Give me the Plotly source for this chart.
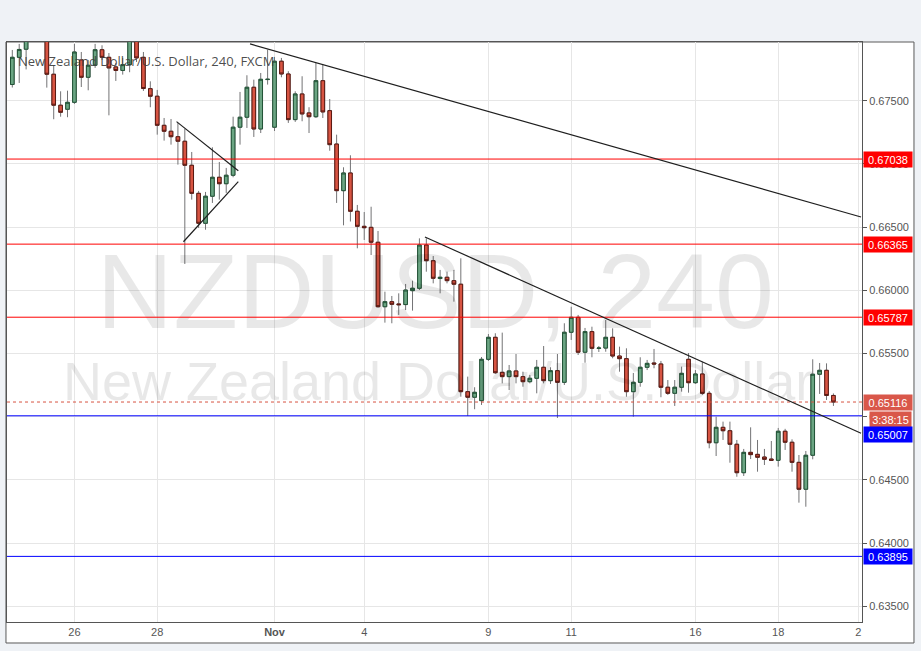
import plotly.graph_objects as go

# ---------------- data (NZDUSD, 240 min bars) ----------------
opens = [0.67628, 0.67843, 0.67907, 0.68000, 0.68080, 0.68030, 0.67709, 0.67464, 0.67432, 0.67487,
         0.67822, 0.67685, 0.67780, 0.67903, 0.67843, 0.67767, 0.67739, 0.67785, 0.67980, 0.67843,
         0.67595, 0.67535, 0.67305, 0.67258, 0.67215, 0.67179, 0.66989, 0.66767, 0.66530, 0.66744,
         0.66894, 0.66843, 0.66910, 0.67290, 0.67369, 0.67606, 0.67276, 0.67667, 0.67290, 0.67812,
         0.67711, 0.67350, 0.67553, 0.67403, 0.67373, 0.67658, 0.67421, 0.67157, 0.66788, 0.66928,
         0.66625, 0.66506, 0.66498, 0.66380, 0.65870, 0.65910, 0.65892, 0.65887, 0.65997, 0.66016,
         0.66358, 0.66234, 0.66093, 0.66103, 0.66076, 0.66048, 0.65198, 0.65154, 0.65127, 0.65454,
         0.65628, 0.65351, 0.65317, 0.65362, 0.65317, 0.65277, 0.65304, 0.65391, 0.65285, 0.65364,
         0.65272, 0.65668, 0.65786, 0.65510, 0.65673, 0.65540, 0.65543, 0.65628, 0.65480, 0.65459,
         0.65198, 0.65272, 0.65391, 0.65425, 0.65417, 0.65233, 0.65185, 0.65233, 0.65454, 0.65269,
         0.65338, 0.65185, 0.64794, 0.64916, 0.64889, 0.64782, 0.64557, 0.64718, 0.64702, 0.64681,
         0.64665, 0.64655, 0.64885, 0.64798, 0.64639, 0.64426, 0.64695, 0.65336, 0.65367, 0.65168]
highs = [0.67901, 0.67949, 0.68050, 0.68120, 0.68140, 0.68070, 0.67782, 0.67574, 0.67579, 0.67949,
         0.67885, 0.67822, 0.67949, 0.67938, 0.67877, 0.67798, 0.67838, 0.68020, 0.68030, 0.67885,
         0.67653, 0.67585, 0.67363, 0.67355, 0.67324, 0.67276, 0.67094, 0.66786, 0.66778, 0.67131,
         0.67015, 0.66968, 0.67373, 0.67569, 0.67701, 0.67666, 0.67719, 0.67903, 0.67846, 0.67838,
         0.67733, 0.67574, 0.67693, 0.67448, 0.67798, 0.67785, 0.67513, 0.67231, 0.66973, 0.67068,
         0.66675, 0.66619, 0.66661, 0.66469, 0.65989, 0.65955, 0.65976, 0.66050, 0.66076, 0.66411,
         0.66411, 0.66271, 0.66161, 0.66147, 0.66161, 0.66253, 0.65317, 0.65233, 0.65472, 0.65654,
         0.65660, 0.65665, 0.65409, 0.65496, 0.65356, 0.65330, 0.65449, 0.65559, 0.65391, 0.65496,
         0.65739, 0.65870, 0.65805, 0.65702, 0.65712, 0.65559, 0.65765, 0.65699, 0.65554, 0.65541,
         0.65346, 0.65470, 0.65449, 0.65536, 0.65441, 0.65290, 0.65290, 0.65396, 0.65504, 0.65369,
         0.65435, 0.65203, 0.65000, 0.64961, 0.64961, 0.64816, 0.64745, 0.64916, 0.64816, 0.64745,
         0.64808, 0.64911, 0.64904, 0.64821, 0.64697, 0.64729, 0.65454, 0.65425, 0.65422, 0.65184]
lows = [0.67604, 0.67640, 0.67747, 0.67972, 0.67980, 0.67603, 0.67353, 0.67373, 0.67369, 0.67474,
        0.67608, 0.67582, 0.67759, 0.67822, 0.67384, 0.67656, 0.67706, 0.67725, 0.67806, 0.67577,
        0.67448, 0.67231, 0.67184, 0.67152, 0.66994, 0.66208, 0.66717, 0.66493, 0.66479, 0.66691,
        0.66717, 0.66770, 0.66894, 0.67152, 0.67284, 0.67213, 0.67244, 0.67627, 0.67260, 0.67685,
        0.67324, 0.67332, 0.67337, 0.67244, 0.67363, 0.67363, 0.67104, 0.66691, 0.66514, 0.66544,
        0.66332, 0.66398, 0.66279, 0.65864, 0.65744, 0.65739, 0.65805, 0.65844, 0.65839, 0.66002,
        0.66147, 0.66055, 0.65976, 0.66055, 0.65910, 0.65158, 0.65006, 0.65059, 0.65093, 0.65441,
        0.65338, 0.65264, 0.65211, 0.65264, 0.65237, 0.65264, 0.65185, 0.65264, 0.65259, 0.64990,
        0.65251, 0.65607, 0.65488, 0.65427, 0.65470, 0.65512, 0.65514, 0.65462, 0.65356, 0.65158,
        0.65000, 0.65237, 0.65369, 0.65383, 0.65154, 0.65172, 0.65085, 0.65198, 0.65190, 0.65259,
        0.65172, 0.64750, 0.64689, 0.64816, 0.64636, 0.64525, 0.64531, 0.64665, 0.64565, 0.64618,
        0.64650, 0.64605, 0.64737, 0.64565, 0.64320, 0.64288, 0.64663, 0.65180, 0.65132, 0.65085]
closes = [0.67843, 0.67905, 0.68000, 0.68080, 0.68030, 0.67709, 0.67464, 0.67408, 0.67487, 0.67885,
          0.67685, 0.67780, 0.67903, 0.67843, 0.67759, 0.67739, 0.67785, 0.67980, 0.67838, 0.67596,
          0.67535, 0.67305, 0.67258, 0.67215, 0.67179, 0.66989, 0.66767, 0.66530, 0.66744, 0.66894,
          0.66843, 0.66910, 0.67290, 0.67369, 0.67606, 0.67276, 0.67669, 0.67669, 0.67812, 0.67711,
          0.67350, 0.67553, 0.67395, 0.67373, 0.67658, 0.67411, 0.67152, 0.66788, 0.66928, 0.66625,
          0.66506, 0.66495, 0.66380, 0.65870, 0.65910, 0.65889, 0.65886, 0.66002, 0.66016, 0.66358,
          0.66234, 0.66095, 0.66103, 0.66076, 0.66048, 0.65198, 0.65154, 0.65193, 0.65454, 0.65628,
          0.65348, 0.65317, 0.65362, 0.65317, 0.65277, 0.65304, 0.65391, 0.65285, 0.65364, 0.65272,
          0.65668, 0.65786, 0.65510, 0.65673, 0.65541, 0.65543, 0.65628, 0.65480, 0.65459, 0.65198,
          0.65272, 0.65391, 0.65422, 0.65417, 0.65233, 0.65185, 0.65233, 0.65343, 0.65269, 0.65338,
          0.65185, 0.64794, 0.64916, 0.64889, 0.64782, 0.64557, 0.64718, 0.64700, 0.64679, 0.64663,
          0.64655, 0.64885, 0.64798, 0.64639, 0.64426, 0.64695, 0.65336, 0.65367, 0.65168, 0.65116]
bar_index = list(range(len(opens)))

x_tick_positions = [9, 21, 38, 51, 69, 81, 99, 111, 122.6]
x_tick_labels = ["26", "28", "<b>Nov</b>", "4", "9", "11", "16", "18", "2"]
y_tick_values = [0.635, 0.640, 0.645, 0.650, 0.655, 0.660, 0.665, 0.670, 0.675]

red_levels = [0.67038, 0.66365, 0.65787]
blue_levels = [0.65007, 0.63895]
last_price = 0.65116
countdown_text = "3:38:15"

# trend lines: (bar index, price) end points
trend_long = [(34.45, 0.67949), (123.0, 0.66580)]
trend_mid = [(59.8, 0.66422), (123.0, 0.64869)]
tri_upper = [(23.8, 0.67334), (32.75, 0.66946)]
tri_lower = [(24.8, 0.66384), (32.75, 0.66859)]

title_text = "New Zealand Dollar/U.S. Dollar, 240, FXCM"
watermark_big = "NZDUSD, 240"
watermark_small = "New Zealand Dollar/U.S. Dollar"

# ---------------- figure ----------------
body_hi = [max(o, c) for o, c in zip(opens, closes)]
body_lo = [min(o, c) for o, c in zip(opens, closes)]

fig = go.Figure()

# watermarks (behind candles)
fig.add_trace(go.Scatter(x=[61.3], y=[0.65915], mode="text", text=[watermark_big],
                         textfont=dict(family="Liberation Sans, Arial", size=106, color="rgba(0,0,0,0.09)"),
                         textposition="middle center", hoverinfo="skip", showlegend=False))
fig.add_trace(go.Scatter(x=[61.7], y=[0.65239], mode="text", text=[watermark_small],
                         textfont=dict(family="Liberation Sans, Arial", size=54, color="rgba(0,0,0,0.09)"),
                         textposition="middle center", hoverinfo="skip", showlegend=False))

wick = "#737375"
fig.add_trace(go.Candlestick(
    x=bar_index, open=opens, high=highs, low=lows, close=closes,
    increasing=dict(line=dict(color=wick, width=1), fillcolor=wick),
    decreasing=dict(line=dict(color=wick, width=1), fillcolor=wick),
    hoverinfo="skip", showlegend=False))
fig.add_trace(go.Candlestick(
    x=bar_index, open=opens, high=body_hi, low=body_lo, close=closes,
    increasing=dict(line=dict(color="#225437", width=1), fillcolor="#6ba583"),
    decreasing=dict(line=dict(color="#5b1a13", width=1), fillcolor="#d75442"),
    hoverinfo="skip", showlegend=False))

shapes = []
# white panel with border
shapes.append(dict(type="rect", xref="paper", yref="paper", x0=-0.0012, x1=1.0608, y0=-0.0362, y1=1.0,
                   fillcolor="white", line=dict(color="#5a5a5a", width=1), layer="below"))
for v in red_levels:
    shapes.append(dict(type="line", xref="paper", yref="y", x0=0, x1=1, y0=v, y1=v,
                       line=dict(color="#ff0000", width=1)))
for v in blue_levels:
    shapes.append(dict(type="line", xref="paper", yref="y", x0=0, x1=1, y0=v, y1=v,
                       line=dict(color="#0000ff", width=1)))
shapes.append(dict(type="line", xref="paper", yref="y", x0=0, x1=1, y0=last_price, y1=last_price,
                   line=dict(color="#d75442", width=1, dash="dot")))
for seg in (trend_long, trend_mid, tri_upper, tri_lower):
    (xa, ya), (xb, yb) = seg
    shapes.append(dict(type="line", xref="x", yref="y", x0=xa, y0=ya, x1=xb, y1=yb,
                       line=dict(color="#1e1e1e", width=1.2)))

annotations = []
lab_font = dict(family="Liberation Sans, Arial", size=11, color="white")


def price_label(v, bg, yshift=0, text=None, width=46, xshift=1):
    annotations.append(dict(x=1, xref="paper", xanchor="left", xshift=xshift,
                            y=v, yref="y", yanchor="middle", yshift=yshift,
                            text=text if text else f"{v:.5f}", showarrow=False,
                            bgcolor=bg, font=lab_font, width=width, height=13,
                            borderpad=1, align="center"))


for v in red_levels:
    price_label(v, "#ff0000")
price_label(last_price, "#d9574a")
price_label(last_price, "#d9574a", yshift=-17, text=countdown_text, width=39, xshift=7)
price_label(blue_levels[0], "#0000ff", yshift=-18.5)
price_label(blue_levels[1], "#0000ff")

annotations.append(dict(x=0.0105, xref="paper", xanchor="left", y=0.967, yref="paper", yanchor="middle",
                        text=title_text, showarrow=False,
                        font=dict(family="Open Sans, Noto Sans", size=13, color="rgba(60,60,60,0.92)")))

fig.update_layout(
    width=921, height=651,
    margin=dict(l=7, r=59, t=42, b=29, pad=0),
    paper_bgcolor="#eff2f6", plot_bgcolor="rgba(0,0,0,0)",
    boxgap=0.25, showlegend=False, hovermode=False,
    shapes=shapes, annotations=annotations,
    xaxis=dict(range=[-0.77, 123.14], tickmode="array", tickvals=x_tick_positions, ticktext=x_tick_labels,
               showgrid=True, gridcolor="#e6e6e6", gridwidth=1, zeroline=False,
               showline=True, linecolor="#555555", linewidth=1, mirror=True, ticks="",
               tickfont=dict(family="Liberation Sans, Arial", size=11, color="#555555"),
               rangeslider=dict(visible=False), fixedrange=True),
    yaxis=dict(side="right", range=[0.63376, 0.67964], tickmode="array", tickvals=y_tick_values,
               tickformat=".5f", showgrid=True, gridcolor="#e6e6e6", gridwidth=1, zeroline=False,
               showline=True, linecolor="#555555", linewidth=1, mirror=True,
               ticks="outside", ticklen=4, tickcolor="#555555",
               tickfont=dict(family="Liberation Sans, Arial", size=11, color="#555555"), fixedrange=True),
)

fig.write_html("out.html", config={"displayModeBar": False},
               post_script="document.body.style.margin='0';document.body.style.background='#eff2f6';")
